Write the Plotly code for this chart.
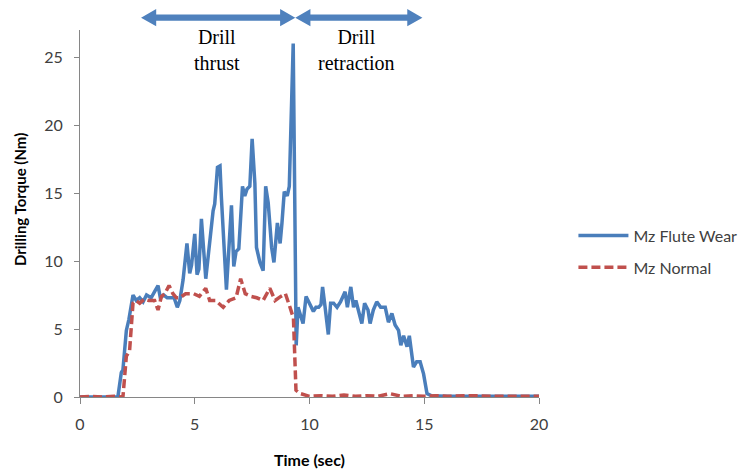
import plotly.graph_objects as go

# ---- data ----
wear_t = [0, 0.5, 1.0, 1.65, 1.8, 1.87, 2.02, 2.13, 2.31, 2.45, 2.6, 2.75, 2.9, 3.1, 3.25, 3.4, 3.5,
          3.65, 3.8, 3.97, 4.1, 4.24, 4.35, 4.49, 4.66, 4.78, 4.86, 5.0, 5.1, 5.18, 5.29, 5.48, 5.63,
          5.8, 5.87, 5.99, 6.1, 6.16, 6.38, 6.5, 6.6, 6.7, 6.8, 6.92, 7.08, 7.18, 7.28, 7.4, 7.5,
          7.62, 7.69, 7.84, 7.98, 8.09, 8.2, 8.35, 8.45, 8.6, 8.72, 8.8, 8.9, 9.03, 9.12, 9.29, 9.42,
          9.5, 9.6, 9.72, 9.85, 10.0, 10.17, 10.28, 10.4, 10.5, 10.57, 10.68, 10.82, 10.92, 11.05,
          11.2, 11.35, 11.55, 11.65, 11.8, 11.92, 12.02, 12.12, 12.28, 12.4, 12.55, 12.64, 12.78,
          12.93, 13.1, 13.3, 13.44, 13.59, 13.73, 13.88, 13.98, 14.1, 14.25, 14.35, 14.53, 14.67,
          14.82, 14.97, 15.12, 15.3, 16, 17, 18, 19, 20]
wear_v = [0, 0, 0, 0, 1.8, 2.0, 4.9, 5.7, 7.5, 7.1, 7.3, 7.0, 7.5, 7.3, 7.75, 8.2, 7.3,
          7.5, 7.3, 7.3, 7.3, 6.6, 7.1, 8.6, 11.3, 9.1, 9.7, 12.0, 9.0, 9.4, 13.1, 8.7, 11.3,
          13.7, 14.2, 16.9, 17.0, 14.7, 7.9, 11.3, 14.1, 9.6, 10.7, 10.9, 15.5, 14.8, 15.3, 15.5, 19.0,
          15.7, 11.0, 9.9, 9.3, 15.5, 14.3, 11.0, 9.9, 12.8, 11.3, 12.8, 15.1, 14.8, 15.5, 26.0, 3.8,
          6.6, 6.0, 5.4, 7.4, 6.9, 6.3, 6.6, 6.6, 6.8, 8.1, 6.6, 4.6, 6.9, 6.9,
          6.6, 7.0, 7.75, 6.6, 8.1, 6.6, 7.1, 6.4, 5.4, 6.9, 6.4, 5.4, 6.4,
          7.0, 6.6, 6.6, 5.5, 6.15, 5.3, 4.9, 3.8, 4.5, 3.7, 4.5, 2.2, 2.6,
          2.6, 1.7, 0.25, 0.1, 0.05, 0.05, 0.05, 0.05, 0.05]

normal_t = [0, 0.5, 1.0, 1.5, 1.87, 2.02, 2.16, 2.31, 2.43, 2.6, 2.8, 3.0, 3.25, 3.4, 3.55, 3.7,
            3.88, 4.05, 4.2, 4.35, 4.6, 4.95, 5.2, 5.48, 5.65, 5.9, 6.24, 6.5, 6.8, 7.0, 7.2, 7.45,
            7.7, 7.98, 8.27, 8.5, 8.75, 8.95, 9.15, 9.3, 9.41, 9.6, 10, 10.5, 11, 11.5, 12, 12.5,
            13, 13.5, 14, 14.5, 15, 15.5, 16, 17, 18, 19, 20]
normal_v = [0, 0.05, 0, 0.05, 0, 3.0, 3.4, 6.9, 7.1, 6.9, 7.2, 7.1, 7.1, 6.4, 7.4, 7.6,
            8.2, 7.6, 7.3, 7.3, 7.6, 7.6, 7.4, 8.0, 7.1, 7.1, 6.6, 7.1, 7.3, 8.7, 7.6, 7.4,
            7.3, 7.1, 8.0, 7.1, 7.4, 7.6, 6.6, 5.8, 0.5, 0.25, 0.05, 0.1, 0.05, 0.15, 0.05, 0.1,
            0.05, 0.25, 0.05, 0.1, 0.05, 0.1, 0.05, 0.1, 0.05, 0.05, 0.05]

series_names = ["Mz Flute Wear", "Mz Normal"]
x_ticks = [0, 5, 10, 15, 20]
y_ticks = [0, 5, 10, 15, 20, 25]

BLUE = "#4A7EBB"
RED = "#C0504D"
ARROW = "#4F81BD"
SANS = "Lato, 'Open Sans', sans-serif"
SERIF = "'Liberation Serif', 'DejaVu Serif', serif"

fig = go.Figure()
fig.add_trace(go.Scatter(x=wear_t, y=wear_v, mode="lines", name=series_names[0],
                         legendgroup="a",
                         line=dict(color=BLUE, width=3.5)))
fig.add_trace(go.Scatter(x=normal_t, y=normal_v, mode="lines", name=series_names[1],
                         legendgroup="b",
                         line=dict(color=RED, width=3.5, dash="9px,4px")))

# double-headed arrows above plot
def dbl_arrow(x0, x1, yc=1.0335, s=0.0085, H=0.0235, h=0.66):
    return (f"M{x0},{yc} L{x0+h},{yc+H} L{x0+h},{yc+s} L{x1-h},{yc+s} L{x1-h},{yc+H} "
            f"L{x1},{yc} L{x1-h},{yc-H} L{x1-h},{yc-s} L{x0+h},{yc-s} L{x0+h},{yc-H} Z")

shapes = [
    dict(type="path", xref="x", yref="paper", path=dbl_arrow(2.66, 9.38),
         fillcolor=ARROW, line=dict(width=0), layer="above"),
    dict(type="path", xref="x", yref="paper", path=dbl_arrow(9.38, 14.92),
         fillcolor=ARROW, line=dict(width=0), layer="above"),
]

annotations = [
    dict(x=5.97, y=0.9455, xref="x", yref="paper", text="Drill<br>thrust", showarrow=False,
         font=dict(family=SERIF, size=20, color="#000000"), xanchor="center", yanchor="middle"),
    dict(x=12.06, y=0.9455, xref="x", yref="paper", text="Drill<br>retraction", showarrow=False,
         font=dict(family=SERIF, size=20, color="#000000"), xanchor="center", yanchor="middle"),
    dict(x=-0.131, y=0.539, xref="paper", yref="paper", text="<b>Drilling Torque (Nm)</b>",
         showarrow=False, textangle=-90, xanchor="center", yanchor="middle",
         font=dict(family=SANS, size=15, color="#000000")),
]

fig.update_layout(
    width=746, height=473,
    margin=dict(l=80, r=207, t=30, b=76, autoexpand=False),
    paper_bgcolor="white", plot_bgcolor="white",
    font=dict(family=SANS, size=16, color="#404040"),
    shapes=shapes, annotations=annotations,
    legend=dict(x=1.075, y=0.396, xanchor="left", yanchor="middle",
                traceorder="grouped", tracegroupgap=8, itemwidth=50,
                font=dict(family=SANS, size=16, color="#404040"),
                bgcolor="rgba(0,0,0,0)"),
    showlegend=True,
)

fig.update_xaxes(range=[0, 20], tickvals=x_ticks, showgrid=False, zeroline=False,
                 showline=True, linecolor="#868686", linewidth=1,
                 ticks="outside", ticklen=6, tickcolor="#868686",
                 ticklabelstandoff=7, automargin=False,
                 title=dict(text="<b>Time (sec)</b>", font=dict(family=SANS, size=16, color="#000000"),
                            standoff=22))
fig.update_yaxes(range=[0, 27], tickvals=y_ticks, showgrid=False, zeroline=False,
                 showline=True, linecolor="#868686", linewidth=1,
                 ticks="outside", ticklen=5, tickcolor="#868686",
                 ticklabelstandoff=8, automargin=False)

fig.write_html("out.html")
